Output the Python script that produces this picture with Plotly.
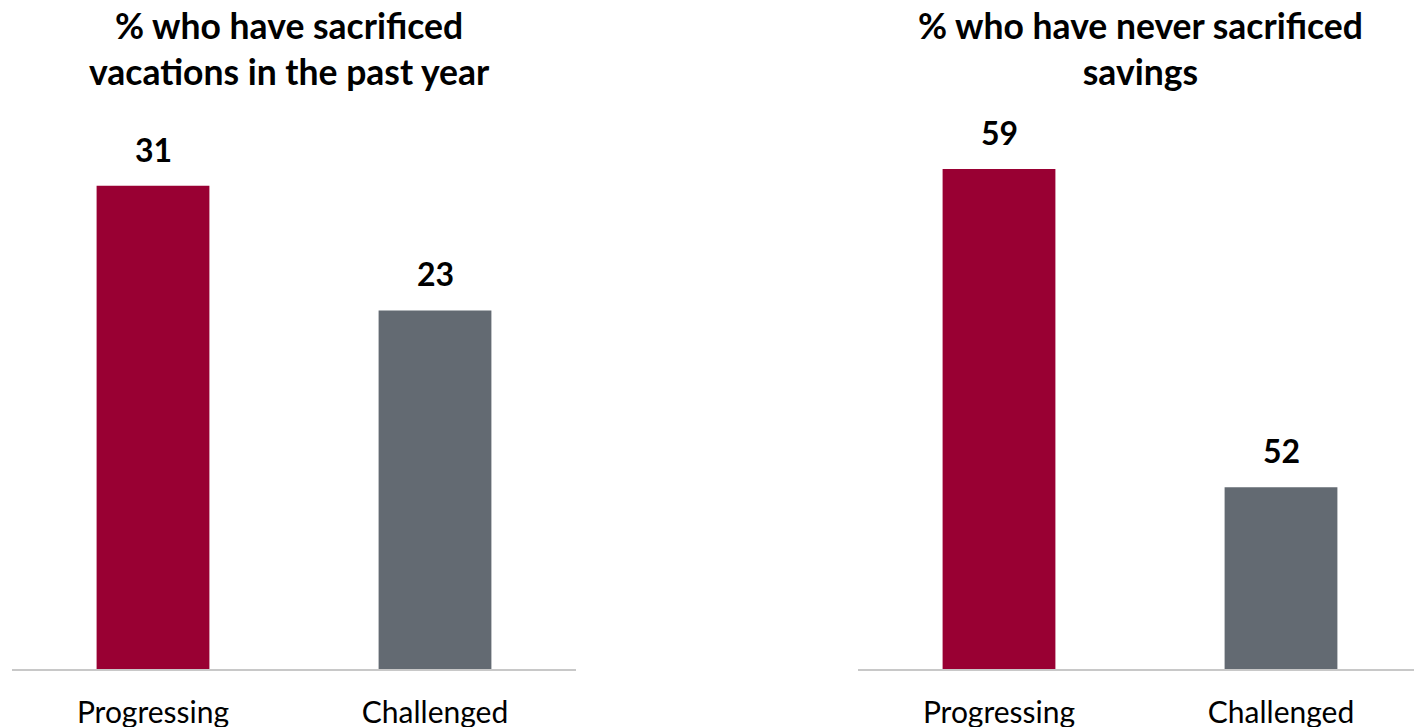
import plotly.graph_objects as go
from plotly.subplots import make_subplots

categories = ["Progressing", "Challenged"]
vacations_values = [31, 23]
savings_values = [59, 52]
bar_colors = ["#990033", "#636A72"]
titles = ["% who have sacrificed<br>vacations in the past year",
          "% who have never sacrificed<br>savings"]

FONT = "Lato"

fig = make_subplots(rows=1, cols=2, horizontal_spacing=0.2)

for col, vals in [(1, vacations_values), (2, savings_values)]:
    fig.add_trace(go.Bar(x=categories, y=vals, marker_color=bar_colors,
                         marker_line_width=0, showlegend=False,
                         hoverinfo="skip"), row=1, col=col)
    xref = "x" if col == 1 else "x2"
    yref = "y" if col == 1 else "y2"
    for c, v in zip(categories, vals):
        fig.add_annotation(x=c, y=v, xref=xref, yref=yref, text=f"<b>{v}</b>",
                           showarrow=False, xanchor="center", yanchor="bottom", yshift=15,
                           font=dict(family=FONT, size=32, color="#000000"))

fig.update_layout(
    width=1414, height=719,
    margin=dict(l=4, r=0, t=92, b=58, autoexpand=False),
    paper_bgcolor="white", plot_bgcolor="white",
    bargap=0.6,
    font=dict(family=FONT, color="#000000"),
)
fig.update_xaxes(showline=True, linecolor="#C8C8C8", linewidth=2,
                 showgrid=False, zeroline=False, ticks="", automargin=False,
                 ticklabelstandoff=16,
                 tickfont=dict(family=FONT, size=30, color="#000000"))
fig.update_yaxes(visible=False, showgrid=False, zeroline=False, automargin=False)
fig.update_xaxes(domain=[0, 564 / 1410], row=1, col=1)
fig.update_xaxes(domain=[846 / 1410, 1], row=1, col=2)
fig.update_yaxes(range=[0, 36.5], row=1, col=1)
fig.update_yaxes(range=[48, 60.52], row=1, col=2)

fig.add_annotation(x=(0 + 564 / 1410) / 2 - 0.003, y=1, xref="paper", yref="paper",
                   xanchor="center", yanchor="top", yshift=98, text=f"<b>{titles[0]}</b>",
                   showarrow=False, align="center",
                   font=dict(family=FONT, size=35.5, color="#000000"))
fig.add_annotation(x=(846 / 1410 + 1) / 2, y=1, xref="paper", yref="paper",
                   xanchor="center", yanchor="top", yshift=98, text=f"<b>{titles[1]}</b>",
                   showarrow=False, align="center",
                   font=dict(family=FONT, size=35.5, color="#000000"))

fig.write_html("out.html")
